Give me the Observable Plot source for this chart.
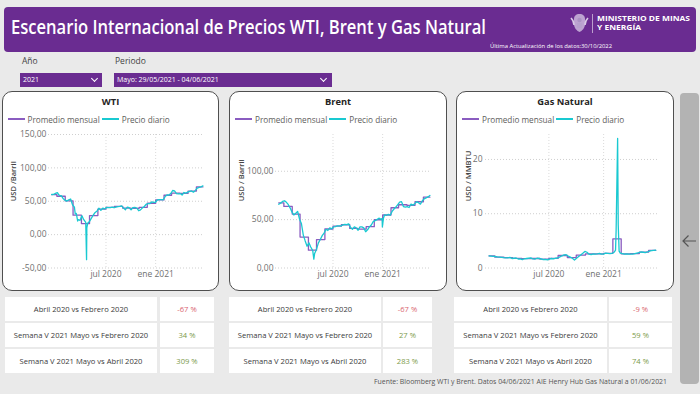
<!DOCTYPE html>
<html><head><meta charset="utf-8">
<script src="https://cdn.jsdelivr.net/npm/d3@7"></script>
<script src="https://cdn.jsdelivr.net/npm/@observablehq/plot@0.6"></script>
<style>
html,body{margin:0;padding:0;}
body{width:700px;height:394px;background:#eaeaea;position:relative;overflow:hidden;font-family:"Open Sans","Noto Sans",sans-serif;}
.abs{position:absolute;}
.fit{position:absolute;white-space:nowrap;transform-origin:left center;display:inline-block;}
.panel{position:absolute;top:91px;height:200px;background:#fff;border:1px solid #4f4f4f;border-radius:10px;box-sizing:border-box;}
.ptitle{position:absolute;top:95px;height:12px;display:flex;align-items:center;justify-content:center;font-weight:700;font-size:9.3px;color:#252423;}
.legend{position:absolute;top:113px;height:12px;display:flex;align-items:center;font-size:8.2px;color:#605e5c;white-space:nowrap;}
.sw{display:inline-block;width:17px;height:1.5px;margin-right:3px;}
.cell{position:absolute;height:24px;background:#fff;display:flex;align-items:center;justify-content:center;font-size:7.6px;color:#3a3a3a;white-space:nowrap;}
.dd{position:absolute;top:72.5px;height:14px;background:#6a2c91;color:#fff;font-size:7px;display:flex;align-items:center;box-sizing:border-box;padding-left:3px;}
.chev{position:absolute;top:3px;width:4px;height:4px;border-right:1px solid #fff;border-bottom:1px solid #fff;transform:rotate(45deg);}
.lbl{position:absolute;top:57px;font-size:8.5px;line-height:8.5px;color:#444;}
</style></head><body>

<div class="abs" style="left:4px;top:7px;width:692px;height:45px;background:#6a2c91;border-radius:4px;"></div>
<div class="fit" id="title" data-w="475" style="left:11px;top:18px;font-weight:600;font-size:19px;line-height:19px;color:#fff;">Escenario Internacional de Precios WTI, Brent y Gas Natural</div>
<svg class="abs" style="left:569px;top:12px" width="21" height="22" viewBox="0 0 21 22">
  <path d="M10.5 2 C7 2 5 4 5 7 L5 12 C5 16 8 19 10.5 20 C13 19 16 16 16 12 L16 7 C16 4 14 2 10.5 2 Z" fill="#cbb8dc" opacity="0.85"/>
  <path d="M2 6 C4 8 5 10 5 13 M19 6 C17 8 16 10 16 13" stroke="#d8cbe5" stroke-width="1.6" fill="none"/>
  <circle cx="10.5" cy="8" r="2.2" fill="#ab93c4"/>
  <rect x="8" y="11" width="5" height="5" fill="#b7a1cd"/>
</svg>
<div class="abs" style="left:592px;top:14px;width:1px;height:19px;background:rgba(255,255,255,0.55);"></div>
<div class="fit" id="minis" style="left:597px;top:14px;font-weight:700;font-size:7.5px;line-height:9px;color:#fff;">
  <div id="minis1">MINISTERIO DE MINAS</div><div>Y ENERGÍA</div>
</div>
<div class="fit" id="upd" data-w="122" style="left:490px;top:43.5px;font-size:5.5px;line-height:5.5px;color:#fff;">Última Actualización de los datos:30/10/2022</div>

<div class="lbl" style="left:22px;">Año</div>
<div class="lbl" style="left:115px;">Periodo</div>
<div class="dd" style="left:20px;width:82px;">2021<span class="chev" style="left:72px;"></span></div>
<div class="dd" style="left:114px;width:218px;">Mayo: 29/05/2021 - 04/06/2021<span class="chev" style="left:207px;"></span></div>

<div class="panel" style="left:2px;width:217px;"></div>
<div class="panel" style="left:229px;width:218px;"></div>
<div class="panel" style="left:456px;width:218px;"></div>

<div class="ptitle" style="left:2px;width:217px;">WTI</div>
<div class="ptitle" style="left:229px;width:218px;">Brent</div>
<div class="ptitle" style="left:456px;width:218px;">Gas Natural</div>

<div id="leg1" class="legend" style="left:7.5px;"></div>
<div id="leg2" class="legend" style="left:235px;"></div>
<div id="leg3" class="legend" style="left:462px;"></div>

<div id="c1" class="abs" style="left:2px;top:128px;"></div>
<div id="c2" class="abs" style="left:229px;top:128px;"></div>
<div id="c3" class="abs" style="left:455px;top:128px;"></div>

<div id="tables"></div>

<div class="fit" id="foot" data-w="293" style="left:374px;top:377.5px;font-size:7.5px;line-height:7.5px;color:#555;">Fuente: Bloomberg WTI y Brent. Datos 04/06/2021 AIE Henry Hub Gas Natural a 01/06/2021</div>

<div class="abs" style="left:680px;top:93px;width:19px;height:291px;background:#b3b3b3;border-radius:4px;"></div>
<svg class="abs" style="left:681px;top:234px" width="16" height="14" viewBox="0 0 16 14">
  <path d="M15 7 H2 M7.5 1.5 L2 7 L7.5 12.5" stroke="#555" stroke-width="1.2" fill="none"/>
</svg>

<script>
// ---------- data ----------
const legendLabels = ["Promedio mensual", "Precio diario"];
const seriesColors = ["#8a5cc0", "#19c9d1"];
const months = ["2019-12","2020-01","2020-02","2020-03","2020-04","2020-05","2020-06","2020-07","2020-08","2020-09","2020-10","2020-11","2020-12","2021-01","2021-02","2021-03","2021-04","2021-05","2021-06"];
const monthNames = ["ene","feb","mar","abr","may","jun","jul","ago","sep","oct","nov","dic"];
const xTicks = ["2020-07-01","2021-01-01"];
const xDomain = ["2019-12-01","2021-07-01"];

const wtiMonthly   = [59.8,57.5,50.5,29.2,16.6,28.5,38.3,40.7,42.3,39.6,39.4,40.9,47.0,52.0,59.0,62.3,61.7,65.2,71.4];
const brentMonthly = [67.3,63.7,55.7,32.0,18.4,29.4,40.3,43.2,44.7,40.9,40.2,42.7,49.9,54.8,62.3,65.4,64.8,68.5,73.2];
const gasMonthly   = [2.22,2.02,1.91,1.79,1.74,1.75,1.63,1.77,2.30,1.92,2.39,2.61,2.59,2.71,5.35,2.62,2.66,2.91,3.26];

const wtiDaily = [["2019-12-13",60.1],["2019-12-20",60.4],["2019-12-27",61.7],["2020-01-03",63.0],["2020-01-08",59.6],["2020-01-14",58.2],["2020-01-17",58.5],["2020-01-24",54.2],["2020-01-31",51.6],["2020-02-07",50.3],["2020-02-14",52.0],["2020-02-21",53.4],["2020-02-28",44.8],["2020-03-06",41.3],["2020-03-09",31.1],["2020-03-13",31.7],["2020-03-18",20.4],["2020-03-20",22.4],["2020-03-27",21.5],["2020-04-03",28.3],["2020-04-09",22.8],["2020-04-17",18.3],["2020-04-20",-37.6],["2020-04-21",10.0],["2020-04-24",17.0],["2020-05-01",19.8],["2020-05-08",24.7],["2020-05-15",29.4],["2020-05-22",33.3],["2020-05-29",35.5],["2020-06-05",39.6],["2020-06-12",36.3],["2020-06-19",39.8],["2020-06-26",38.5],["2020-07-03",40.7],["2020-07-10",40.6],["2020-07-17",40.6],["2020-07-24",41.3],["2020-07-31",40.3],["2020-08-07",41.2],["2020-08-14",42.0],["2020-08-21",42.3],["2020-08-28",43.0],["2020-09-04",39.8],["2020-09-11",37.3],["2020-09-18",41.1],["2020-09-25",40.3],["2020-10-02",37.1],["2020-10-09",40.6],["2020-10-16",40.9],["2020-10-23",39.9],["2020-10-30",35.8],["2020-11-06",37.1],["2020-11-13",40.1],["2020-11-20",42.2],["2020-11-27",45.5],["2020-12-04",46.3],["2020-12-11",46.6],["2020-12-18",49.1],["2020-12-24",48.2],["2020-12-31",48.5],["2021-01-08",52.2],["2021-01-15",52.4],["2021-01-22",52.3],["2021-01-29",52.2],["2021-02-05",56.9],["2021-02-12",59.5],["2021-02-19",59.2],["2021-02-26",61.5],["2021-03-05",66.1],["2021-03-12",65.6],["2021-03-19",61.4],["2021-03-26",61.0],["2021-04-02",61.5],["2021-04-09",59.3],["2021-04-16",63.1],["2021-04-23",62.1],["2021-04-30",63.6],["2021-05-07",64.9],["2021-05-14",65.4],["2021-05-21",63.6],["2021-05-28",66.3],["2021-06-04",69.6],["2021-06-11",70.9],["2021-06-18",71.6],["2021-06-25",73.0]];

const brentDaily = [["2019-12-13",65.9],["2019-12-20",67.0],["2019-12-27",68.9],["2020-01-03",69.5],["2020-01-08",68.6],["2020-01-17",65.7],["2020-01-24",62.2],["2020-01-31",58.0],["2020-02-07",54.8],["2020-02-14",56.6],["2020-02-21",58.5],["2020-02-28",50.5],["2020-03-06",46.0],["2020-03-13",34.0],["2020-03-20",28.0],["2020-03-27",22.5],["2020-04-03",26.0],["2020-04-09",22.0],["2020-04-17",18.0],["2020-04-21",9.1],["2020-04-24",15.0],["2020-05-01",19.5],["2020-05-08",26.0],["2020-05-15",29.5],["2020-05-22",33.5],["2020-05-29",36.0],["2020-06-05",40.0],["2020-06-12",38.8],["2020-06-19",41.5],["2020-06-26",40.5],["2020-07-03",42.5],["2020-07-10",42.8],["2020-07-17",43.5],["2020-07-24",43.6],["2020-07-31",43.5],["2020-08-07",44.5],["2020-08-14",45.0],["2020-08-21",44.8],["2020-08-28",45.6],["2020-09-04",42.0],["2020-09-11",40.0],["2020-09-18",42.5],["2020-09-25",41.5],["2020-10-02",39.0],["2020-10-09",42.5],["2020-10-16",42.5],["2020-10-23",41.5],["2020-10-30",37.5],["2020-11-06",39.5],["2020-11-13",42.5],["2020-11-20",44.5],["2020-11-27",48.0],["2020-12-04",49.0],["2020-12-11",50.0],["2020-12-18",51.5],["2020-12-24",50.5],["2020-12-30",51.0],["2020-12-31",42.5],["2021-01-04",51.5],["2021-01-08",55.0],["2021-01-15",54.5],["2021-01-22",55.5],["2021-01-29",54.5],["2021-02-05",58.5],["2021-02-12",61.0],["2021-02-19",63.0],["2021-02-26",65.5],["2021-03-05",68.0],["2021-03-12",68.5],["2021-03-19",63.5],["2021-03-26",63.0],["2021-04-02",63.5],["2021-04-09",62.5],["2021-04-16",66.0],["2021-04-23",65.0],["2021-04-30",66.5],["2021-05-07",68.5],["2021-05-14",67.5],["2021-05-21",66.0],["2021-05-28",69.5],["2021-06-04",71.5],["2021-06-11",72.5],["2021-06-18",73.5],["2021-06-25",75.0]];

const gasDaily = [["2019-12-13",2.25],["2019-12-20",2.20],["2019-12-27",2.15],["2020-01-03",2.12],["2020-01-10",2.05],["2020-01-17",2.00],["2020-01-24",1.95],["2020-01-31",1.90],["2020-02-07",1.88],["2020-02-14",1.85],["2020-02-21",1.95],["2020-02-28",1.75],["2020-03-06",1.80],["2020-03-13",1.85],["2020-03-20",1.65],["2020-03-27",1.70],["2020-04-03",1.55],["2020-04-09",1.70],["2020-04-17",1.75],["2020-04-24",1.80],["2020-05-01",1.85],["2020-05-08",1.70],["2020-05-15",1.65],["2020-05-22",1.80],["2020-05-29",1.75],["2020-06-05",1.70],["2020-06-12",1.55],["2020-06-19",1.60],["2020-06-26",1.50],["2020-07-03",1.65],["2020-07-10",1.75],["2020-07-17",1.70],["2020-07-24",1.80],["2020-07-31",1.85],["2020-08-07",2.05],["2020-08-14",2.25],["2020-08-21",2.40],["2020-08-28",2.45],["2020-09-04",2.20],["2020-09-11",2.00],["2020-09-18",1.80],["2020-09-25",1.45],["2020-09-30",1.70],["2020-10-09",2.10],["2020-10-16",2.40],["2020-10-23",2.70],["2020-10-30",3.05],["2020-11-06",2.90],["2020-11-13",2.55],["2020-11-20",2.45],["2020-11-27",2.60],["2020-12-04",2.55],["2020-12-11",2.60],["2020-12-18",2.70],["2020-12-24",2.55],["2020-12-31",2.55],["2021-01-08",2.75],["2021-01-15",2.70],["2021-01-22",2.65],["2021-01-29",2.70],["2021-02-05",2.90],["2021-02-10",3.30],["2021-02-12",7.00],["2021-02-17",23.86],["2021-02-19",8.00],["2021-02-22",3.10],["2021-02-26",2.75],["2021-03-05",2.65],["2021-03-12",2.55],["2021-03-19",2.60],["2021-03-26",2.55],["2021-04-02",2.55],["2021-04-09",2.55],["2021-04-16",2.65],["2021-04-23",2.75],["2021-04-30",2.85],["2021-05-07",2.95],["2021-05-14",2.90],["2021-05-21",2.85],["2021-05-28",2.95],["2021-06-04",3.10],["2021-06-11",3.20],["2021-06-18",3.25],["2021-06-25",3.30]];

const wtiYTicks = [-50, 0, 50, 100, 150];
const brentYTicks = [0, 50, 100];
const gasYTicks = [0, 10, 20];

const comparisons = ["Abril 2020 vs Febrero 2020", "Semana V 2021 Mayo vs Febrero 2020", "Semana V 2021 Mayo vs Abril 2020"];
const wtiPct = [-67, 34, 309];
const brentPct = [-67, 27, 283];
const gasPct = [-9, 59, 74];

// ---------- charts ----------
const monthFmt = d => monthNames[d.getUTCMonth()] + " " + d.getUTCFullYear();
const decFmt = d => d.toFixed(2).replace(".", ",");

function chart({daily, monthly, yDomain, yTicks, width, ml, mr, tickPad, labelDx, label, fmt}) {
  const dailyData = daily.map(([d, v]) => ({date: new Date(d), v}));
  const first = dailyData[0].date, last = dailyData[dailyData.length - 1].date;
  const stepData = months.map((m, i) => ({date: new Date(Math.max(+new Date(m + "-01"), +first)), v: monthly[i]}));
  stepData.push({date: last, v: monthly[monthly.length - 1]});
  const xt = xTicks.map(d => new Date(d));
  return Plot.plot({
    width, height: 158,
    marginLeft: ml, marginRight: mr, marginTop: 6, marginBottom: 18.5,
    x: {type: "utc", domain: xDomain.map(d => new Date(d))},
    y: {domain: yDomain},
    style: {fontFamily: "Open Sans, Noto Sans, sans-serif", fontSize: "8.5px", color: "#707070", background: "transparent", overflow: "visible"},
    marks: [
      Plot.gridY(yTicks, {stroke: "#cfcfcf", strokeOpacity: 1, strokeDasharray: "1,2"}),
      Plot.gridX(xt, {stroke: "#dadada", strokeOpacity: 1, strokeDasharray: "1,2"}),
      Plot.axisY(yTicks, {tickSize: 0, tickPadding: tickPad, tickFormat: fmt, label: null}),
      Plot.axisX(xt, {tickSize: 0, tickPadding: 3, tickFormat: monthFmt, label: null}),
      Plot.lineY(stepData, {x: "date", y: "v", curve: "step-after", stroke: seriesColors[0], strokeWidth: 1.3}),
      Plot.lineY(dailyData, {x: "date", y: "v", stroke: seriesColors[1], strokeWidth: 1.3}),
      Plot.text([label], {text: d => d, frameAnchor: "left", dx: labelDx, rotate: -90, fontSize: 7.5, fontWeight: 600, fill: "#444"})
    ]
  });
}

document.getElementById("c1").append(chart({daily: wtiDaily, monthly: wtiMonthly, yDomain: [-50, 150], yTicks: wtiYTicks, width: 218, ml: 46, mr: 16, tickPad: 2, labelDx: -35, label: "USD /Barril", fmt: decFmt}));
document.getElementById("c2").append(chart({daily: brentDaily, monthly: brentMonthly, yDomain: [0, 138], yTicks: brentYTicks, width: 218, ml: 46, mr: 16, tickPad: 2, labelDx: -34, label: "USD / Barril", fmt: decFmt}));
document.getElementById("c3").append(chart({daily: gasDaily, monthly: gasMonthly, yDomain: [0, 24.6], yTicks: gasYTicks, width: 219, ml: 30, mr: 17, tickPad: 3, labelDx: -17, label: "USD / MMBTU", fmt: d => String(d)}));

// ---------- legends ----------
["leg1", "leg2", "leg3"].forEach(id => {
  const el = document.getElementById(id);
  legendLabels.forEach((t, i) => {
    const sw = document.createElement("span");
    sw.className = "sw"; sw.style.background = seriesColors[i];
    if (i > 0) sw.style.marginLeft = "2px";
    const tx = document.createElement("span"); tx.textContent = t;
    el.append(sw, tx);
  });
});

// ---------- tables ----------
const tableLayout = [
  {pct: wtiPct, lx: 5, lw: 152, rx: 160, rw: 54},
  {pct: brentPct, lx: 229, lw: 152, rx: 383, rw: 49},
  {pct: gasPct, lx: 454, lw: 153, rx: 609, rw: 63}
];
const rowTops = [297, 323, 349];
const tables = document.getElementById("tables");
tableLayout.forEach(t => {
  comparisons.forEach((c, i) => {
    const a = document.createElement("div");
    a.className = "cell"; a.textContent = c;
    Object.assign(a.style, {left: t.lx + "px", top: rowTops[i] + "px", width: t.lw + "px"});
    const b = document.createElement("div");
    b.className = "cell"; b.textContent = t.pct[i] + " %";
    Object.assign(b.style, {left: t.rx + "px", top: rowTops[i] + "px", width: t.rw + "px", color: t.pct[i] < 0 ? "#d9646e" : "#7b9a4a"});
    tables.append(a, b);
  });
});

// ---------- fit text widths ----------
function fitAll() {
  document.querySelectorAll(".fit[data-w]").forEach(el => {
    el.style.transform = "none";
    const r = el.getBoundingClientRect().width;
    if (r > 0) el.style.transform = `scaleX(${(+el.dataset.w) / r})`;
  });
  const m = document.getElementById("minis"), m1 = document.getElementById("minis1");
  m.style.transform = "none";
  m1.style.display = "inline-block";
  const r = m1.getBoundingClientRect().width;
  if (r > 0) m.style.transform = `scaleX(${93 / r})`;
}
fitAll();
if (document.fonts && document.fonts.ready) document.fonts.ready.then(fitAll);
</script>
</body></html>
